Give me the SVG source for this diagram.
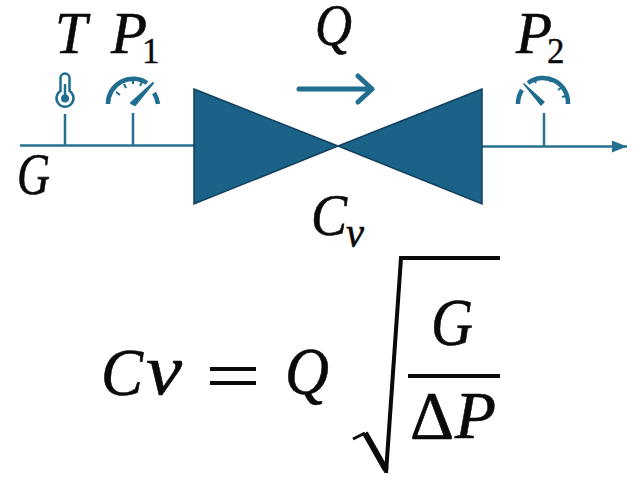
<svg xmlns="http://www.w3.org/2000/svg" width="640" height="480" viewBox="0 0 640 480">
<style>
text{font-family:"Liberation Serif","DejaVu Serif",serif;font-style:italic;fill:#0a0a0a;stroke:#0a0a0a;stroke-width:.6}
.n{font-style:normal}
.lg{font-size:59px}
.eq{font-size:68px}
.sub{font-size:35px;font-style:normal;stroke-width:.4}
.pipe{stroke:#27708f;stroke-width:2.5;fill:none}
.ic{stroke:#1f6d8f;fill:none;stroke-width:4.500}
.ink{stroke:#0a0a0a;fill:none}
</style>
<defs>
<marker id="ah" markerUnits="userSpaceOnUse" markerWidth="16" markerHeight="12" refX="15" refY="6" orient="auto"><path d="M0 0L15 6L0 12Z" fill="#27708f"/></marker>
</defs>
<g id="connectors">
<path class="pipe" d="M20 145.500H194"/>
<path class="pipe" d="M482 146.500H627" marker-end="url(#ah)"/>
<path class="pipe" d="M65 114V146"/>
<path class="pipe" d="M133 113V146"/>
<path class="pipe" d="M544 113V147"/>
<path d="M299 89H372M358 76L372 89L358 102" fill="none" stroke="#1f6d8f" stroke-width="5" stroke-linecap="round" stroke-linejoin="round"/>
</g>
<g id="valve">
<path d="M194 89L338 146L194 204Z M482 89L338 146L482 204Z" fill="#1a6287" stroke="#123f5a" stroke-width="1.500"/>
<text class="lg" x="311" y="235" textLength="36" lengthAdjust="spacingAndGlyphs">C</text>
<text x="346" y="247" font-size="44" textLength="18" lengthAdjust="spacingAndGlyphs">v</text>
</g>
<g id="flow"><text class="lg" x="315" y="45" textLength="37" lengthAdjust="spacingAndGlyphs">Q</text></g>
<g id="fluid"><text class="lg" x="17" y="194" textLength="33" lengthAdjust="spacingAndGlyphs">G</text></g>
<g id="thermometer">
<text class="lg" x="55" y="53" textLength="32" lengthAdjust="spacingAndGlyphs">T</text>
<path d="M60.500 91V78a4.500 4.500 0 0 1 9 0V91a8.500 8.500 0 1 1-9 0Z" fill="none" stroke="#1f6d8f" stroke-width="2.500"/>
<circle cx="65" cy="98.500" r="4" fill="#1f6d8f"/>
<path d="M65 84V98" stroke="#1f6d8f" stroke-width="2.500"/>
</g>
<g id="p1-gauge">
<text class="lg" x="111" y="53" textLength="36" lengthAdjust="spacingAndGlyphs">P</text>
<text class="sub" x="142" y="63">1</text>
<path class="ic" d="M108 104A25 25 0 0 1 147 83"/>
<path class="ic" d="M154 93A25 25 0 0 1 158 104"/>
<path d="M116 92l4 3M124 84l2 4M133 80v4M142 82l-2 4" stroke="#1f6d8f" stroke-width="2"/>
<path d="M131 103L153 83L135 105Z" fill="#1f6d8f" stroke="#1f6d8f" stroke-width="2" stroke-linejoin="round"/>
</g>
<g id="p2-gauge">
<text class="lg" x="516" y="53" textLength="36" lengthAdjust="spacingAndGlyphs">P</text>
<text class="sub" x="547" y="63">2</text>
<path class="ic" d="M518 104A25 25 0 0 1 522 90"/>
<path class="ic" d="M528 83A25 25 0 0 1 568 104"/>
<path d="M534 79l2 4M543 76v4M552 78l-2 4M561 88l-3 2M566 96l-4 1" stroke="#1f6d8f" stroke-width="2"/>
<path d="M524 84L544 102L541 105Z" fill="#1f6d8f" stroke="#1f6d8f" stroke-width="1.500" stroke-linejoin="round"/>
</g>
<g id="formula">
<text class="eq" x="101" y="395" textLength="42" lengthAdjust="spacingAndGlyphs">C</text>
<text x="146" y="394" font-size="72" textLength="36" lengthAdjust="spacingAndGlyphs">v</text>
<path d="M210 369H256M210 383H256" class="ink" stroke-width="4"/>
<text class="eq" x="285" y="394" textLength="44" lengthAdjust="spacingAndGlyphs">Q</text>
<path d="M353 439L365 433" class="ink" stroke-width="3"/>
<path d="M365 433L386 470" class="ink" stroke-width="6"/>
<path d="M386 473L401 258H500" class="ink" stroke-width="4"/>
<path d="M408 376H500" class="ink" stroke-width="4"/>
<text class="eq" x="431" y="345" textLength="42" lengthAdjust="spacingAndGlyphs">G</text>
<text class="eq n" x="410" y="438" textLength="44" lengthAdjust="spacingAndGlyphs">Δ</text>
<text class="eq" x="455" y="438" textLength="41" lengthAdjust="spacingAndGlyphs">P</text>
</g>
</svg>
